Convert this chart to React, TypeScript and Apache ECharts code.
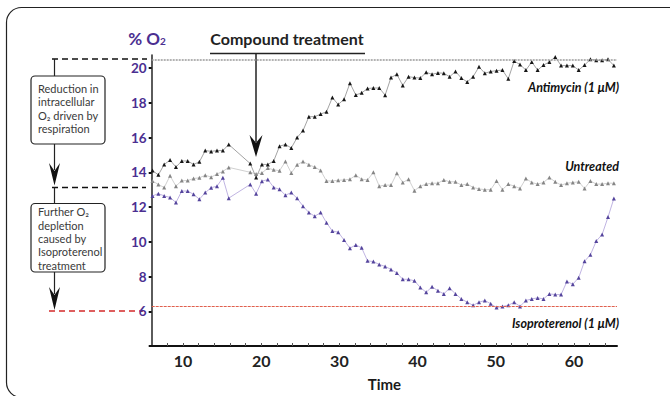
import React, { useEffect, useRef } from "react";
import * as echarts from "echarts";

const times = [
  6.1, 6.85, 7.6, 8.35, 9.1, 9.85, 10.6, 11.35, 12.1, 12.85, 13.6, 14.35, 15.1, 15.85,
  18.6, 19.35, 20.1, 20.85, 21.6, 22.35, 23.1, 23.85, 24.6, 25.35, 26.1, 26.85, 27.6, 28.35,
  29.1, 29.85, 30.6, 31.35, 32.1, 32.85, 33.6, 34.35, 35.1, 35.85, 36.6, 37.35, 38.1, 38.85,
  39.6, 40.35, 41.1, 41.85, 42.6, 43.35, 44.1, 44.85, 45.6, 46.35, 47.1, 47.85, 48.6, 49.35,
  50.1, 50.85, 51.6, 52.35, 53.1, 53.85, 54.6, 55.35, 56.1, 56.85, 57.6, 58.35, 59.1, 59.85,
  60.6, 61.35, 62.1, 62.85, 63.6, 64.35, 65.1,
];

const antimycin = [
  14.1, 13.85, 14.45, 14.7, 14.3, 14.65, 14.65, 14.45, 14.6, 15.25, 15.2, 15.25, 15.25, 15.6,
  14.5, 13.7, 14.45, 14.45, 14.65, 15.5, 15.6, 15.4, 16.0, 16.4, 17.2, 17.2, 17.35, 17.48,
  18.3, 17.9, 18.2, 19.13, 18.45, 18.57, 18.82, 18.85, 18.85, 18.44, 19.45, 19.64, 19.0, 19.5,
  19.45, 19.42, 19.75, 19.64, 19.72, 19.7, 19.5, 19.8, 19.42, 19.2, 19.5, 20.07, 19.7, 19.8,
  19.85, 19.88, 19.38, 20.4, 20.2, 19.88, 20.35, 19.88, 20.17, 20.35, 20.64, 20.14, 20.14, 20.14,
  19.88, 20.17, 20.5, 20.45, 20.45, 20.5, 20.14,
];

const untreated = [
  13.5, 13.3, 13.12, 13.8, 13.2, 13.52, 13.52, 13.64, 13.68, 13.83, 13.72, 13.9, 14.05, 14.28,
  14.0, 13.9, 13.96, 14.24, 14.14, 14.09, 14.62, 13.96, 14.43, 14.62, 14.43, 14.3, 14.1, 13.5,
  13.5, 13.54, 13.56, 13.6, 13.83, 13.6, 13.56, 14.0, 13.2, 13.26, 13.26, 13.94, 13.41, 13.6,
  12.94, 13.2, 13.32, 13.37, 13.37, 13.56, 13.45, 13.45, 13.26, 13.32, 13.13, 13.04, 13.0, 13.0,
  13.5, 13.0, 13.32, 13.2, 13.07, 13.64, 13.41, 13.32, 13.41, 13.7, 13.45, 13.26, 13.37, 13.41,
  13.45, 13.07, 13.5, 13.32, 13.32, 13.37, 13.37,
];

const isoproterenol = [
  12.64, 12.77, 12.64, 12.55, 12.26, 12.92, 12.92, 12.73, 12.45, 12.83, 13.11, 13.2, 13.68, 12.51,
  13.3, 12.77, 13.49, 13.58, 13.13, 13.02, 12.68, 12.83, 12.5, 12.05, 11.68, 11.47, 11.68, 11.1,
  10.62, 10.55, 10.1, 9.63, 9.82, 9.65, 8.9, 8.86, 8.69, 8.58, 8.41, 8.2, 7.84, 7.84,
  7.75, 7.37, 7.09, 7.41, 7.18, 7.0, 7.33, 7.0, 6.71, 6.52, 6.34, 6.52, 6.62, 6.43,
  6.21, 6.28, 6.34, 6.52, 6.28, 6.62, 6.71, 6.77, 6.71, 7.0, 6.96, 6.96, 7.71, 7.56,
  7.93, 8.88, 9.25, 10.04, 10.42, 11.42, 12.49,
];

const seriesNames = ["Antimycin (1 μM)", "Untreated", "Isoproterenol (1 μM)"];
const upperLevel = 20.5;
const lowerLevel = 6.27;
const box1Lines = ["Reduction in", "intracellular", "O₂ driven by", "respiration"];
const box2Lines = ["Further O₂", "depletion", "caused by", "Isoproterenol", "treatment"];

const FONT = "Lato, 'Open Sans', 'DejaVu Sans', sans-serif";

function pairs(vals: number[]) {
  return times.map((t, i) => [t, vals[i]]);
}

function arrowHead(x: number, top: number, tip: number, half: number) {
  return {
    type: "polygon",
    shape: {
      points: [
        [x, tip],
        [x - half, top],
        [x, top + (tip - top) * 0.35],
        [x + half, top],
      ],
    },
    style: { fill: "#111" },
    silent: true,
  };
}

function vline(x: number, y1: number, y2: number, w = 1.2) {
  return {
    type: "line",
    shape: { x1: x, y1, x2: x, y2 },
    style: { stroke: "#222", lineWidth: w },
    silent: true,
  };
}

function seriesLabel(text: string, y: number) {
  return {
    type: "text",
    x: 619,
    y,
    style: {
      text,
      fontFamily: FONT,
      fontWeight: "bold",
      fontStyle: "italic",
      fontSize: 12.5,
      fill: "#111",
      align: "right",
      verticalAlign: "middle",
    },
  };
}

function boxLines(lines: string[], y0: number) {
  return lines.map((t, i) => ({
    type: "text",
    x: 38,
    y: y0 + i * 13.35,
    style: {
      text: t,
      fontFamily: FONT,
      fontSize: 11,
      fill: "#3a3a3a",
      align: "left",
      verticalAlign: "middle",
    },
  }));
}

export default function App() {
  const ref = useRef<HTMLDivElement>(null);

  useEffect(() => {
    if (!ref.current) return;
    const chart = echarts.init(ref.current, undefined, { renderer: "svg" });

    const option: any = {
      animation: false,
      backgroundColor: "#ffffff",
      grid: { left: 151.7, right: 53, top: 55, bottom: 44, containLabel: false },
      xAxis: {
        type: "value",
        min: 6,
        max: 65.5,
        interval: 2,
        name: "Time",
        nameLocation: "middle",
        nameGap: 30,
        nameTextStyle: { fontFamily: FONT, fontWeight: "bold", fontSize: 15, color: "#1a1a1a" },
        axisLine: { show: true, lineStyle: { color: "#111", width: 2 } },
        axisTick: { show: true, inside: true, length: 3, lineStyle: { color: "#555", width: 1 } },
        axisLabel: {
          formatter: (v: number) => (Math.round(v) % 10 === 0 ? String(Math.round(v)) : ""),
          fontFamily: FONT,
          fontWeight: "bold",
          fontSize: 16,
          color: "#222",
          margin: 6,
          showMinLabel: false,
          showMaxLabel: false,
        },
        splitLine: { show: false },
      },
      yAxis: {
        type: "value",
        min: 4,
        max: 20.75,
        interval: 2,
        axisLine: { show: true, lineStyle: { color: "#333", width: 1.6 } },
        axisTick: { show: true, inside: false, length: 3, lineStyle: { color: "#111", width: 2 } },
        axisLabel: {
          formatter: (v: number) => (v >= 6 && v <= 20 && Math.round(v) % 2 === 0 ? String(Math.round(v)) : ""),
          fontFamily: FONT,
          fontWeight: "bold",
          fontSize: 13.5,
          color: "#4b2f91",
          margin: 5,
          showMaxLabel: false,
        },
        splitLine: { show: false },
      },
      series: [
        {
          name: seriesNames[0],
          type: "line",
          data: pairs(antimycin),
          symbol: "triangle",
          symbolSize: 4,
          itemStyle: { color: "#161616" },
          lineStyle: { color: "#8c8c8c", width: 0.8 },
          z: 4,
          markLine: {
            silent: true,
            symbol: "none",
            label: { show: false },
            lineStyle: { color: "#9a9a9a", width: 1.5, type: [2, 1] },
            data: [{ yAxis: upperLevel }],
          },
        },
        {
          name: seriesNames[1],
          type: "line",
          data: pairs(untreated),
          symbol: "triangle",
          symbolSize: 4,
          itemStyle: { color: "#858585" },
          lineStyle: { color: "#c4c4c4", width: 0.8 },
          z: 3,
        },
        {
          name: seriesNames[2],
          type: "line",
          data: pairs(isoproterenol),
          symbol: "triangle",
          symbolSize: 4,
          itemStyle: { color: "#54449c" },
          lineStyle: { color: "#b9acdf", width: 0.9 },
          z: 3,
          markLine: {
            silent: true,
            symbol: "none",
            label: { show: false },
            lineStyle: { color: "#e0604e", width: 1.2, type: [3, 1] },
            data: [{ yAxis: lowerLevel }],
          },
        },
      ],
      graphic: [
        {
          type: "rect",
          shape: { x: 6.5, y: 7.5, width: 700, height: 390, r: 15 },
          style: { fill: "none", stroke: "#222", lineWidth: 1.2 },
          silent: true,
          z: -1,
        },
        {
          type: "text",
          x: 147,
          y: 38,
          style: {
            text: "{a|% O}{b|2}",
            rich: {
              a: { fontFamily: FONT, fontWeight: "bold", fontSize: 17, fill: "#4b2f91" },
              b: { fontFamily: FONT, fontWeight: "bold", fontSize: 10, fill: "#4b2f91", padding: [6, 0, 0, 0] },
            },
            align: "center",
            verticalAlign: "middle",
          },
        },
        {
          type: "text",
          x: 287,
          y: 38,
          style: {
            text: "Compound treatment",
            fontFamily: FONT,
            fontWeight: "bold",
            fontSize: 16,
            fill: "#222",
            align: "center",
            verticalAlign: "middle",
          },
        },
        {
          type: "line",
          shape: { x1: 210, y1: 53.5, x2: 365, y2: 53.5 },
          style: { stroke: "#222", lineWidth: 1.5 },
        },
        vline(256, 53.5, 142, 1.5),
        arrowHead(256, 135, 157, 6.5),
        seriesLabel(seriesNames[0], 87),
        seriesLabel(seriesNames[1], 166),
        seriesLabel(seriesNames[2], 323),
        {
          type: "line",
          shape: { x1: 52, y1: 59, x2: 147, y2: 59 },
          style: { stroke: "#111", lineWidth: 1.6, lineDash: [6, 4] },
        },
        {
          type: "line",
          shape: { x1: 52, y1: 187.5, x2: 146, y2: 187.5 },
          style: { stroke: "#111", lineWidth: 1.6, lineDash: [6, 4] },
        },
        {
          type: "line",
          shape: { x1: 49, y1: 311, x2: 143, y2: 311 },
          style: { stroke: "#d42a2a", lineWidth: 1.6, lineDash: [6, 4] },
        },
        vline(54.5, 59, 76),
        {
          type: "rect",
          shape: { x: 31, y: 76, width: 74, height: 68, r: 4 },
          style: { fill: "#fff", stroke: "#222", lineWidth: 1.2 },
        },
        ...boxLines(box1Lines, 88.5),
        vline(54.5, 144, 170),
        arrowHead(54.5, 163, 185.5, 5.5),
        vline(54.5, 187.5, 203.5),
        {
          type: "rect",
          shape: { x: 31, y: 203.5, width: 74, height: 68.5, r: 4 },
          style: { fill: "#fff", stroke: "#222", lineWidth: 1.2 },
        },
        ...boxLines(box2Lines, 211.7),
        vline(54.5, 272, 294),
        arrowHead(54.5, 287, 310, 5.5),
      ],
    };

    chart.setOption(option);
    return () => chart.dispose();
  }, []);

  return (
    <div
      ref={ref}
      style={{ position: "fixed", left: 0, top: 0, width: 670, height: 396 }}
    />
  );
}
